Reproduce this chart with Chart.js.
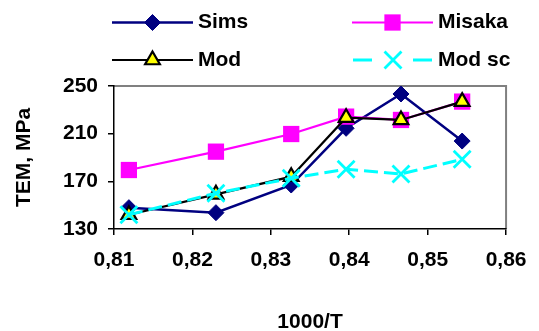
<!DOCTYPE html>
<html>
<head>
<meta charset="utf-8">
<script src="https://cdn.jsdelivr.net/npm/chart.js@4.4.1/dist/chart.umd.min.js"></script>
<style>
  html, body { margin: 0; padding: 0; background: #fff; }
  #wrap { width: 539px; height: 331px; }
</style>
</head>
<body>
<div id="wrap"><canvas id="c" width="539" height="331"></canvas></div>
<script>
// ---- data ----
const xValues = [0.8119, 0.8230, 0.8326, 0.8396, 0.8466, 0.8544];
const sims    = [147.9, 143.7, 166.9, 214.5, 243.3, 203.8];
const misaka  = [179.5, 194.9, 209.7, 224.3, 221.5, 236.9];
const mod     = [142.0, 159.1, 173.9, 223.4, 221.5, 236.9];
const modSc   = [142.0, 160.0, 172.6, 180.1, 176.2, 188.5];
const seriesNames = ['Sims', 'Misaka', 'Mod', 'Mod sc'];
const yTicks = [130, 170, 210, 250];
const xTicks = [0.81, 0.82, 0.83, 0.84, 0.85, 0.86];
const xTitle = '1000/T';
const yTitle = 'TEM, MPa';

const pts = arr => arr.map((y, i) => ({ x: xValues[i], y }));
const FONT = "'Liberation Sans', Arial, sans-serif";
const FS = 21;

const datasets = [
  { label: seriesNames[0], data: pts(sims), borderColor: '#000080', backgroundColor: '#000080',
    borderWidth: 2.5, pointStyle: 'rectRot', pointRadius: 8, pointBorderWidth: 1,
    pointBorderColor: '#000080', pointBackgroundColor: '#000080', order: 4 },
  { label: seriesNames[1], data: pts(misaka), borderColor: '#FF00FF', backgroundColor: '#FF00FF',
    borderWidth: 2.2, pointStyle: 'rect', pointRadius: 11.5, pointBorderWidth: 0,
    pointBorderColor: '#FF00FF', pointBackgroundColor: '#FF00FF', order: 3 },
  { label: seriesNames[2], data: pts(mod), borderColor: '#000000', backgroundColor: '#FFFF00',
    borderWidth: 2.2, pointStyle: 'triangle', pointRadius: 8.5, pointBorderWidth: 2.2,
    pointBorderColor: '#000000', pointBackgroundColor: '#FFFF00', order: 2 },
  { label: seriesNames[3], data: pts(modSc), borderColor: '#00FFFF', backgroundColor: '#00FFFF',
    borderWidth: 3, borderDash: [14, 6], pointStyle: 'crossRot', pointRadius: 12, pointBorderWidth: 2.8,
    pointBorderColor: '#00FFFF', pointBackgroundColor: '#00FFFF', order: 1 }
];

const legendLayout = [
  { x1: 112, x2: 193, y: 22.5, tx: 198, dash: [] },
  { x1: 352, x2: 433, y: 22.5, tx: 438, dash: [] },
  { x1: 112, x2: 193, y: 60, tx: 198, dash: [] },
  { x1: 353, x2: 433, y: 60, tx: 438, dash: [19, 41] }
];

const framePlugin = {
  id: 'frame',
  beforeDraw(chart) {
    const { ctx, chartArea: a } = chart;
    ctx.save();
    ctx.fillStyle = '#fff';
    ctx.fillRect(0, 0, chart.width, chart.height);
    ctx.strokeStyle = '#808080';
    ctx.lineWidth = 2;
    ctx.beginPath();
    ctx.moveTo(a.left, a.top);
    ctx.lineTo(a.right, a.top);
    ctx.lineTo(a.right, a.bottom);
    ctx.stroke();
    ctx.restore();
  },
  afterDraw(chart) {
    const { ctx } = chart;
    chart.data.datasets.forEach((ds, i) => {
      const L = legendLayout[i];
      ctx.save();
      ctx.strokeStyle = ds.borderColor;
      ctx.lineWidth = ds.borderWidth;
      ctx.setLineDash(L.dash);
      ctx.beginPath();
      ctx.moveTo(L.x1, L.y);
      ctx.lineTo(L.x2, L.y);
      ctx.stroke();
      ctx.setLineDash([]);
      ctx.fillStyle = ds.pointBackgroundColor;
      ctx.strokeStyle = ds.pointBorderColor;
      ctx.lineWidth = ds.pointBorderWidth;
      Chart.helpers.drawPoint(ctx, {
        pointStyle: ds.pointStyle, radius: ds.pointRadius, rotation: 0, borderWidth: ds.pointBorderWidth
      }, (L.x1 + L.x2) / 2, L.y);
      ctx.fillStyle = '#000';
      ctx.font = 'bold ' + FS + 'px ' + FONT;
      ctx.textBaseline = 'middle';
      ctx.textAlign = 'left';
      ctx.fillText(ds.label, L.tx, L.y);
      ctx.restore();
    });
  }
};

new Chart(document.getElementById('c'), {
  type: 'scatter',
  data: { datasets: datasets.map(d => Object.assign({ showLine: true, fill: false, tension: 0 }, d)) },
  options: {
    responsive: false,
    animation: false,
    events: [],
    layout: { padding: { top: 86, right: 24, left: 0, bottom: 0 } },
    plugins: { legend: { display: false }, tooltip: { enabled: false } },
    scales: {
      x: {
        type: 'linear', min: xTicks[0], max: xTicks[xTicks.length - 1],
        afterFit(s) { s.height = 102; },
        afterBuildTicks(s) { s.ticks = xTicks.map(v => ({ value: v })); },
        grid: { drawOnChartArea: false, drawTicks: true, tickLength: 6, color: '#000', lineWidth: 1.5 },
        border: { color: '#000', width: 1.5 },
        ticks: {
          padding: 12.5, color: '#000', maxRotation: 0,
          font: { family: FONT, size: FS, weight: 'bold' },
          callback: v => Number(v).toFixed(2).replace('.', ',')
        },
        title: {
          display: true, text: xTitle, color: '#000',
          font: { family: FONT, size: FS, weight: 'bold', lineHeight: 1 },
          padding: { top: 0, bottom: -2 }
        }
      },
      y: {
        type: 'linear', min: yTicks[0], max: yTicks[yTicks.length - 1],
        afterFit(s) { s.width = 114; },
        afterBuildTicks(s) { s.ticks = yTicks.map(v => ({ value: v })); },
        grid: { drawOnChartArea: false, drawTicks: true, tickLength: 6, color: '#000', lineWidth: 1.5 },
        border: { color: '#000', width: 1.5 },
        ticks: {
          padding: 10, color: '#000',
          font: { family: FONT, size: FS, weight: 'bold' },
          callback: v => String(v)
        },
        title: {
          display: true, text: yTitle, color: '#000',
          font: { family: FONT, size: FS, weight: 'bold', lineHeight: 1 },
          padding: { top: 13.5, bottom: 0 }
        }
      }
    }
  },
  plugins: [framePlugin]
});
</script>
</body>
</html>
